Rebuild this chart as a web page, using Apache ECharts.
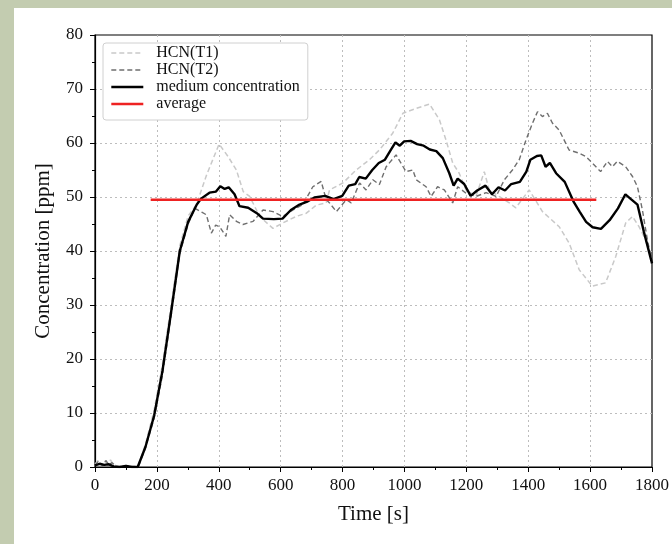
<!DOCTYPE html>
<html>
<head>
<meta charset="utf-8">
<script src="https://cdn.jsdelivr.net/npm/echarts@6/dist/echarts.min.js"></script>
<style>
  html, body { margin: 0; padding: 0; }
  #wrap { position: relative; width: 672px; height: 544px; background: #c3ccb0; overflow: hidden; }
  #chart { position: absolute; left: 14px; top: 8px; width: 658px; height: 536px; background: #ffffff; }
</style>
</head>
<body>
<div id="wrap"><div id="chart"></div></div>
<script>
// ---- data ----
const seriesNames = ['HCN(T1)', 'HCN(T2)', 'medium concentration', 'average'];

const t1Time = [0,10,20,30,40,50,60,80,100,120,140,163,191,218,246,274,301,328,360,401,430,457,479,500,532,575,607,650,683,715,747,758,801,844,887,919,962,995,1038,1081,1113,1134,1156,1177,1199,1231,1258,1274,1306,1339,1360,1403,1446,1500,1532,1565,1607,1650,1683,1715,1737,1758,1780,1800];
const t1Val  = [0.5,1.2,0.3,1.1,0.6,1.3,0.4,0,0.3,0,0.3,4.2,10.5,19,30,41,46.5,48.6,54,59.8,57.5,55,51,50.1,46.4,44.2,45.2,46.4,47,48.5,48.9,51.3,52.6,55,56.9,58.7,61.8,65.5,66.4,67.2,64.3,60.6,56.3,54.4,51.3,50.1,54.7,51.3,50.1,48.9,48,51.3,47.3,44.5,41.5,36.5,33.5,34.1,39,45.2,46.4,44.5,42,38];

const t2Time = [0,10,25,35,45,55,70,100,140,163,191,218,246,274,301,323,345,360,376,390,403,423,435,457,478,511,543,575,607,640,672,704,731,747,758,780,812,828,855,876,898,919,941,973,1005,1027,1038,1070,1086,1107,1129,1156,1172,1199,1231,1264,1296,1323,1349,1371,1393,1414,1430,1446,1462,1478,1500,1532,1565,1586,1607,1634,1656,1672,1688,1715,1737,1753,1769,1785,1800];
const t2Val  = [0.3,1,0.2,1.2,0.4,0.8,0,0.2,0,3.5,9,17,28,39.5,45,47.9,47.2,46.7,43.3,44.8,44.5,42.7,46.7,45.5,44.9,45.5,47.6,47.3,46.4,47.6,48.6,51.9,52.9,49.5,48.9,47.3,49.5,48.9,52.6,51.3,53.2,52.3,55.6,57.8,54.7,55,53.2,51.9,50.1,51.9,51.3,48.9,51.9,50.7,50.1,50.8,50.1,53.2,55,56.9,60.6,63.7,65.8,64.9,65.5,63.7,62.4,58.7,58.1,57.5,56.3,54.7,56.6,55.6,56.6,55.6,53.8,51.9,47.6,42.1,38];

const medTime = [0,15,30,45,60,80,100,120,138,163,191,218,246,274,301,329,343,370,391,405,419,432,451,467,495,523,543,578,606,633,661,688,709,744,771,799,820,841,854,875,896,917,937,957,971,985,999,1020,1041,1062,1082,1103,1124,1145,1159,1172,1193,1214,1235,1262,1283,1304,1325,1345,1373,1394,1407,1428,1442,1456,1470,1490,1518,1546,1566,1587,1608,1635,1663,1690,1714,1732,1753,1774,1800];
const medVal  = [0.3,0.6,0.4,0.5,0.1,0,0.2,0,0,3.7,9.5,17.8,28.7,40,45.4,48.6,49.7,50.8,51,52,51.5,51.8,50.5,48.3,48,47,46,45.9,46,47.6,48.6,49.2,49.9,50.2,49.6,50.2,52.1,52.4,53.7,53.4,55,56.3,56.9,58.8,60.1,59.5,60.3,60.4,59.8,59.5,58.8,58.5,57.2,54.4,52.1,53.4,52.4,50.2,51.2,52.1,50.5,51.8,51.2,52.4,52.8,54.7,56.9,57.6,57.7,55.6,56.3,54.4,52.8,49.2,47.3,45.4,44.4,44.1,45.7,47.9,50.5,49.6,48.6,43.5,37.7];

const avgTime = [180, 1620];
const avgVal  = [49.5, 49.5];

const xTicks = [0, 200, 400, 600, 800, 1000, 1200, 1400, 1600, 1800];
const yTicks = [0, 10, 20, 30, 40, 50, 60, 70, 80];

// ---- build ----
const zip = (a, b) => a.map((t, i) => [t, b[i]]);
const FONT = 'Liberation Serif';
const plain = v => String(v);

const styles = [
  { color: '#c9c9c9', width: 1.5, type: [5, 3] },
  { color: '#6f6f6f', width: 1.4, type: [5, 3] },
  { color: '#000000', width: 2.4, type: 'solid' },
  { color: '#ee2222', width: 2.6, type: 'solid' }
];
const seriesData = [zip(t1Time, t1Val), zip(t2Time, t2Val), zip(medTime, medVal), zip(avgTime, avgVal)];

const gridLine = { show: true, showMinLine: false, showMaxLine: false, lineStyle: { type: [2, 3], color: '#bdbdbd', width: 1 } };

const chart = echarts.init(document.getElementById('chart'), null, { renderer: 'canvas' });
chart.setOption({
  animation: false,
  backgroundColor: '#ffffff',
  grid: { left: 81, top: 27, right: 19, bottom: 77, show: true, borderColor: '#000', borderWidth: 1.2, backgroundColor: 'transparent' },
  legend: {
    left: 89, top: 35,
    orient: 'vertical',
    data: seriesNames.map((n, i) => ({ name: n, lineStyle: { width: styles[i].width, color: styles[i].color, type: styles[i].type } })),
    itemWidth: 32, itemHeight: 12, itemGap: 1,
    itemStyle: { opacity: 0 },
    padding: [2, 8, 8, 7],
    backgroundColor: '#ffffff',
    borderColor: '#d0d0d0', borderWidth: 1, borderRadius: 3,
    textStyle: { fontFamily: FONT, fontSize: 16, lineHeight: 13, color: '#111', padding: [0, 0, 0, 8] }
  },
  xAxis: {
    type: 'value',
    min: xTicks[0], max: xTicks[xTicks.length - 1], interval: 200,
    name: 'Time [s]', nameLocation: 'middle', nameGap: 37,
    nameTextStyle: { fontFamily: FONT, fontSize: 21, color: '#111' },
    axisLine: { show: true, lineStyle: { color: '#000', width: 1.2 } },
    axisTick: { show: true, length: 5, lineStyle: { color: '#000' } },
    minorTick: { show: true, splitNumber: 2, length: 3, lineStyle: { color: '#000' } },
    axisLabel: { fontFamily: FONT, fontSize: 17, color: '#111', margin: 10, formatter: plain },
    splitLine: gridLine
  },
  yAxis: {
    type: 'value',
    min: yTicks[0], max: yTicks[yTicks.length - 1], interval: 10,
    name: 'Concentration [ppm]', nameLocation: 'middle', nameGap: 41,
    nameTextStyle: { fontFamily: FONT, fontSize: 21, color: '#111' },
    axisLine: { show: true, lineStyle: { color: '#000', width: 1.2 } },
    axisTick: { show: true, length: 5, lineStyle: { color: '#000' } },
    minorTick: { show: true, splitNumber: 2, length: 3, lineStyle: { color: '#000' } },
    axisLabel: { fontFamily: FONT, fontSize: 17, color: '#111', margin: 12, formatter: plain },
    splitLine: gridLine
  },
  series: seriesNames.map((n, i) => ({
    name: n, type: 'line', data: seriesData[i], symbol: 'none', z: 2 + i,
    lineStyle: { color: styles[i].color, width: styles[i].width, type: styles[i].type },
    itemStyle: { color: styles[i].color }
  }))
});
</script>
</body>
</html>
